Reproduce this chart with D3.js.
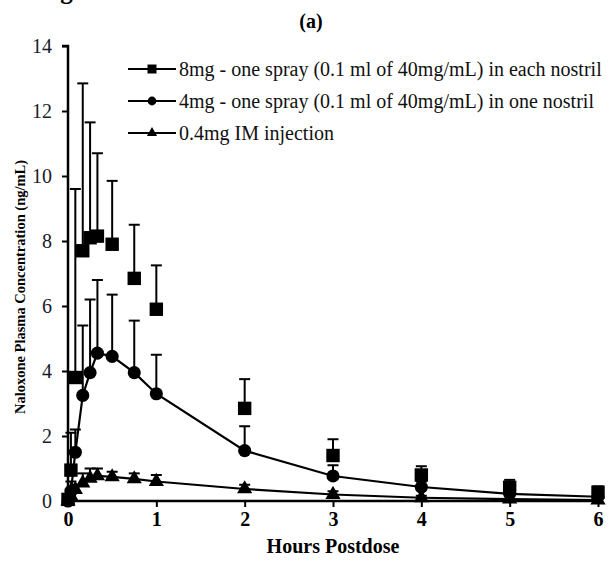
<!DOCTYPE html>
<html><head><meta charset="utf-8">
<script src="https://cdn.jsdelivr.net/npm/d3@7"></script>
<style>
html,body{margin:0;padding:0;background:#fff;}
svg{display:block;font-family:"Liberation Serif","Times New Roman",serif;}
</style></head>
<body>
<svg id="chart" width="609" height="564"></svg>
<script>
// ---- data ----
const hours = [0, 0.033, 0.083, 0.167, 0.25, 0.333, 0.5, 0.75, 1, 2, 3, 4, 5, 6];
const mean8mg = [0.05, 0.95, 3.8, 7.7, 8.1, 8.15, 7.9, 6.85, 5.9, 2.85, 1.4, 0.8, 0.42, 0.27];
const upper8mg = [0.1, 2.1, 9.6, 12.85, 11.65, 10.7, 9.85, 8.5, 7.25, 3.75, 1.9, 1.07, 0.65, 0.45];
const mean4mg = [0.0, 0.3, 1.5, 3.25, 3.95, 4.55, 4.45, 3.95, 3.3, 1.55, 0.77, 0.43, 0.22, 0.13];
const upper4mg = [0.0, 0.6, 2.2, 5.4, 6.2, 6.8, 6.35, 5.55, 4.5, 2.3, 1.1, 0.6, 0.32, 0.2];
const meanIM = [0.0, 0.15, 0.35, 0.55, 0.7, 0.77, 0.74, 0.68, 0.6, 0.37, 0.2, 0.1, 0.06, 0.03];
const upperIM = [0.0, 0.25, 0.5, 0.85, 1.0, 1.0, 0.9, 0.85, 0.8, 0.5, 0.3, 0.16, 0.1, 0.05];
const xTicks = [0, 1, 2, 3, 4, 5, 6];
const yTicks = [0, 2, 4, 6, 8, 10, 12, 14];
const seriesNames = [
  "8mg - one spray (0.1 ml of 40mg/mL) in each nostril",
  "4mg - one spray (0.1 ml of 40mg/mL) in one nostril",
  "0.4mg IM injection"
];
const titleText = "(a)";
const captionText = "Figure 1: Mean Naloxone Plasma Concentration-Time Profiles";
const xLabel = "Hours Postdose";
const yLabel = "Naloxone Plasma Concentration (ng/mL)";

// ---- chart ----
const svg = d3.select("#chart");
svg.append("rect").attr("width", 609).attr("height", 564).attr("fill", "#fff");

const x = d3.scaleLinear().domain([0, 6]).range([68, 598]);
const y = d3.scaleLinear().domain([0, 14]).range([501, 46]);

const series = [
  {name: seriesNames[0], mean: mean8mg, upper: upper8mg, shape: d3.symbolSquare, size: 180, line: false},
  {name: seriesNames[1], mean: mean4mg, upper: upper4mg, shape: d3.symbolCircle, size: 135, line: true},
  {name: seriesNames[2], mean: meanIM, upper: upperIM, shape: d3.symbolTriangle, size: 100, line: true}
];

// caption (cut off at top edge, as in the reference)
svg.append("text").attr("x", 38).attr("y", -1).attr("font-size", 25).attr("font-weight", "bold")
  .text(captionText);
svg.append("text").attr("x", 311).attr("y", 28).attr("text-anchor", "middle")
  .attr("font-size", 20).attr("font-weight", "bold").text(titleText);

// axes
const yAxis = svg.append("g").attr("transform", "translate(68,0)")
  .call(d3.axisLeft(y).tickValues(yTicks).tickSize(6).tickPadding(10).tickFormat(d3.format("d")));
yAxis.select(".domain").attr("stroke", "#000").attr("stroke-width", 2.5).attr("d", `M-6,${y(14)}H0V${y(0)}`);
yAxis.selectAll(".tick line").attr("stroke", "#000").attr("stroke-width", 2);
yAxis.selectAll(".tick text").attr("font-size", 20).attr("fill", "#1a1a2a")
  .style("font-family", "'Liberation Serif', serif");

const xAxis = svg.append("g").attr("transform", "translate(0,501)")
  .call(d3.axisBottom(x).tickValues(xTicks).tickSize(6).tickPadding(5).tickFormat(d3.format("d")));
xAxis.select(".domain").attr("stroke", "#000").attr("stroke-width", 2.5).attr("d", `M${x(0)},0H${x(6)}`);
xAxis.selectAll(".tick line").attr("stroke", "#000").attr("stroke-width", 2);
xAxis.selectAll(".tick text").attr("font-size", 20).attr("font-weight", "bold").attr("fill", "#000")
  .style("font-family", "'Liberation Serif', serif");

svg.append("text").attr("x", 333).attr("y", 553).attr("text-anchor", "middle")
  .attr("font-size", 20).attr("font-weight", "bold").text(xLabel);
svg.append("text").attr("transform", "translate(25,287) rotate(-90)").attr("text-anchor", "middle")
  .attr("font-size", 14.5).attr("font-weight", "bold").text(yLabel);

// error bars, lines, markers
const plot = svg.append("g");
series.forEach(s => {
  const pts = hours.map((h, i) => ({h, m: s.mean[i], u: s.upper[i]}));
  const eb = plot.append("g").attr("stroke", "#000").attr("stroke-width", 2);
  pts.filter(p => p.u > p.m + 0.05).forEach(p => {
    eb.append("line").attr("x1", x(p.h)).attr("x2", x(p.h)).attr("y1", y(p.m)).attr("y2", y(p.u));
    eb.append("line").attr("x1", x(p.h) - 5.5).attr("x2", x(p.h) + 5.5).attr("y1", y(p.u)).attr("y2", y(p.u));
  });
  if (s.line) {
    plot.append("path").datum(pts).attr("fill", "none").attr("stroke", "#000").attr("stroke-width", 2.2)
      .attr("d", d3.line().x(p => x(p.h)).y(p => y(p.m)));
  }
  plot.append("g").selectAll("path").data(pts).join("path")
    .attr("transform", p => `translate(${x(p.h)},${y(p.m)})`)
    .attr("d", d3.symbol().type(s.shape).size(s.size)).attr("fill", "#000");
});

// legend
const leg = svg.append("g");
series.forEach((s, i) => {
  const ly = 69 + i * 32;
  leg.append("line").attr("x1", 128).attr("x2", 176).attr("y1", ly).attr("y2", ly)
    .attr("stroke", "#000").attr("stroke-width", 2.2);
  leg.append("path").attr("transform", `translate(152,${ly})`)
    .attr("d", d3.symbol().type(s.shape).size(s.size * 0.45)).attr("fill", "#000");
  leg.append("text").attr("x", 179).attr("y", ly + 7).attr("font-size", 20).attr("fill", "#111").text(s.name);
});
</script>
</body></html>
